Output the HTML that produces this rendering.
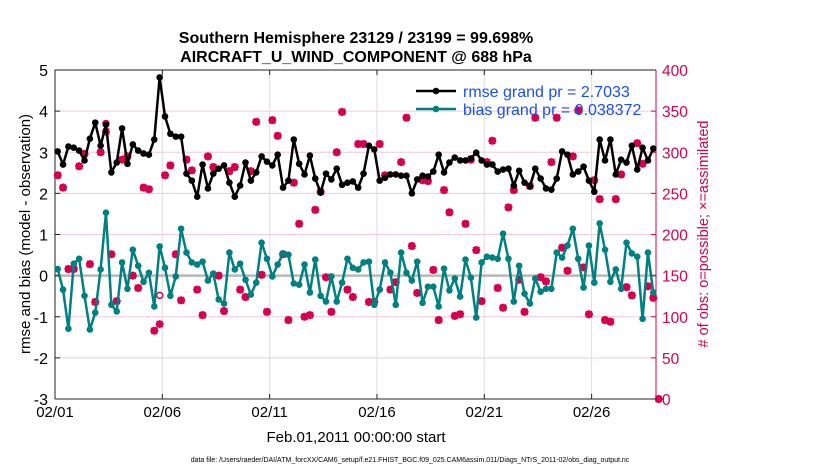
<!DOCTYPE html>
<html><head><meta charset="utf-8"><style>
body{margin:0;background:#fff;}
svg{font-family:"Liberation Sans",Arial,sans-serif;}
</style></head><body>
<svg id="chart" width="830" height="470" viewBox="0 0 830 470">
<rect width="830" height="470" fill="#fff"/>
<g id="grid"></g>
<g id="axes"></g>
<g id="series"></g>
<g id="legend"></g>
<text x="356" y="43" text-anchor="middle" font-size="16" font-weight="bold">Southern Hemisphere 23129 / 23199 = 99.698%</text>
<text x="356" y="62" text-anchor="middle" font-size="16" font-weight="bold">AIRCRAFT_U_WIND_COMPONENT @ 688 hPa</text>
<text transform="translate(30,234) rotate(-90)" text-anchor="middle" font-size="15">rmse and bias (model - observation)</text>
<text transform="translate(708,234) rotate(-90)" text-anchor="middle" font-size="14.5" fill="#d6004f"># of obs: o=possible; ×=assimilated</text>
<text x="356" y="442" text-anchor="middle" font-size="15">Feb.01,2011 00:00:00 start</text>
<text x="410" y="462" text-anchor="middle" font-size="7">data file: /Users/raeder/DAI/ATM_forcXX/CAM6_setup/f.e21.FHIST_BGC.f09_025.CAM6assim.011/Diags_NTrS_2011-02/obs_diag_output.nc</text>
</svg>
<script>
const rmse=[3.02,2.70,3.14,3.11,3.04,2.80,3.33,3.72,3.16,3.67,2.51,2.75,3.58,2.72,3.19,3.04,2.97,2.94,3.31,4.82,3.87,3.45,3.38,3.38,2.48,2.31,1.92,2.70,2.12,
2.48,2.60,2.68,2.26,1.92,2.19,2.75,2.31,2.51,2.90,2.77,2.68,2.94,2.14,2.31,3.31,2.72,2.46,2.92,2.36,2.02,2.48,2.34,2.60,2.21,2.26,2.29,2.14,
2.48,3.16,3.07,2.31,2.38,2.46,2.46,2.43,2.43,2.00,2.34,2.43,2.41,2.53,2.94,2.51,2.75,2.87,2.80,2.80,2.85,2.99,2.80,2.70,2.70,2.53,2.58,
2.60,2.19,2.55,2.26,2.17,2.60,2.36,2.12,2.09,2.36,3.02,2.94,2.46,2.53,2.65,2.31,2.04,3.31,2.80,3.31,2.46,2.82,2.75,3.16,2.58,3.11,2.80,3.09];
const bias=[0.16,-0.34,-1.29,0.29,0.41,-0.49,-1.31,-0.90,0.15,1.53,-0.71,-0.87,0.32,-0.32,0.63,0.24,-0.15,0.07,-0.75,0.71,0.19,-0.49,-0.02,1.14,0.56,0.32,0.27,0.34,-0.12,
0.05,-0.58,-0.68,0.56,0.15,0.29,-0.10,-0.46,-0.17,0.80,0.41,-0.02,0.27,0.54,0.51,-0.19,-0.22,0.27,-0.41,0.39,-0.49,-0.63,-0.02,-0.63,-0.17,0.41,0.19,0.15,
0.32,0.34,-0.71,-0.34,0.32,0.07,-0.71,0.56,0.07,-0.12,0.34,-0.66,-0.27,-0.27,-0.75,0.17,-0.36,-0.07,-0.51,0.39,-0.05,-1.02,0.32,0.46,0.44,0.41,1.02,
0.41,-0.63,0.24,-0.44,-0.68,-0.07,-0.39,-0.32,-0.32,0.56,0.44,0.73,1.14,0.41,-0.29,0.73,-0.17,1.27,0.63,-0.15,0.15,-0.32,0.80,0.54,0.46,-1.05,0.56,-0.41];
const nposs=[272,257,158,158,283,298,164,118,300,335,176,119,291,295,150,135,257,255,83,126,272,284,176,120,291,278,133,102,295,
282,150,107,277,282,133,124,277,337,151,106,339,320,176,96,263,213,100,102,230,252,148,106,300,349,133,124,310,
310,118,118,310,272,133,142,288,342,186,129,266,265,157,96,254,227,101,103,213,291,181,119,288,314,135,111,
233,254,145,106,259,342,148,143,288,342,184,156,295,351,160,103,266,243,96,94,243,273,136,126,311,286,137,123,0];
const nused=[272,257,158,158,283,298,164,118,300,325,176,119,291,295,150,135,257,255,83,91,272,284,176,120,291,278,133,102,295,
282,150,107,277,282,133,124,277,337,151,106,339,320,176,96,263,213,100,102,230,252,148,106,300,349,133,124,310,
310,118,118,310,272,133,142,288,342,186,129,266,265,157,96,254,227,101,103,213,291,181,119,288,314,135,111,
233,254,145,106,259,342,148,143,288,342,184,156,295,351,160,103,266,243,96,94,243,273,136,126,311,286,137,123,0];
const xTickLabels=["02/01","02/06","02/11","02/16","02/21","02/26"];
const xTickDays=[0,5,10,15,20,25];
const yLeftTicks=[-3,-2,-1,0,1,2,3,4,5];
const yRightTicks=[0,50,100,150,200,250,300,350,400];
const legendLabels=["rmse grand pr = 2.7033","bias grand pr = 0.038372"];

const NS="http://www.w3.org/2000/svg";
const L=55,R=656,T=70,B=399;
const xS=d=>L+(d/28)*(R-L);
const yL=v=>B-(v+3)/8*(B-T);
const yR=v=>B-v/400*(B-T);
const dayOf=i=>0.125+0.25*i;
function mk(tag,attrs,parent){const e=document.createElementNS(NS,tag);for(const k in attrs)e.setAttribute(k,attrs[k]);parent.appendChild(e);return e;}
const grid=document.getElementById('grid'),axes=document.getElementById('axes'),ser=document.getElementById('series'),leg=document.getElementById('legend');

yRightTicks.forEach(v=>{const l=mk('line',{x1:L,x2:R,y1:yR(v),y2:yR(v),stroke:'#f3c9d8','stroke-width':1},grid);

});
xTickDays.forEach((d,i)=>{const l=mk('line',{x1:xS(d),x2:xS(d),y1:T,y2:B,stroke:'#dcdcdc','stroke-width':1},grid);


const t=mk('text',{x:xS(d),y:B+18,'text-anchor':'middle','font-size':15},axes);t.textContent=xTickLabels[i];


mk('line',{x1:xS(d),x2:xS(d),y1:B,y2:B-5,stroke:'#222'},axes);mk('line',{x1:xS(d),x2:xS(d),y1:T,y2:T+5,stroke:'#222'},axes);});
const zl=mk('line',{x1:L,x2:R,y1:yL(0),y2:yL(0),stroke:'#b8b8b8','stroke-width':2.5},grid);


yLeftTicks.forEach(v=>{const t=mk('text',{x:L-7,y:yL(v)+6,'text-anchor':'end','font-size':16},axes);t.textContent=v;


mk('line',{x1:L,x2:L+5,y1:yL(v),y2:yL(v),stroke:'#222'},axes);});
yRightTicks.forEach(v=>{const t=mk('text',{x:R+6,y:yR(v)+6,'font-size':15.5,fill:'#d6004f'},axes);t.textContent=v;


mk('line',{x1:R-5,x2:R,y1:yR(v),y2:yR(v),stroke:'#d6004f'},axes);});
mk('path',{d:`M${L},${B}V${T}H${R}`,fill:'none',stroke:'#222','stroke-width':1},axes);
mk('line',{x1:L,x2:R,y1:B,y2:B,stroke:'#222'},axes);
mk('line',{x1:R,x2:R,y1:T,y2:B,stroke:'#d6004f'},axes);

function star(x,y,g){[[0,4],[4,0],[3,3],[3,-3]].forEach(([a,b])=>mk('line',{x1:x-a,y1:y-b,x2:x+a,y2:y+b,stroke:'#d6004f','stroke-width':2.2},g));}
nposs.forEach((v,i)=>{const g=mk('g',{},ser);


mk('circle',{cx:xS(dayOf(i)),cy:yR(v),r:3,fill:'none',stroke:'#d6004f','stroke-width':1.5},g);});
nused.forEach((v,i)=>{const g=mk('g',{},ser);


star(xS(dayOf(i)),yR(v),g);});

function line(arr,col,name){const p=mk('polyline',{points:arr.map((v,i)=>xS(dayOf(i))+','+yL(v)).join(' '),fill:'none',stroke:col,'stroke-width':2.5,'stroke-linejoin':'round'},ser);


arr.forEach((v,i)=>{const c=mk('circle',{cx:xS(dayOf(i)),cy:yL(v),r:3.3,fill:col},ser);

});}
line(rmse,'#000','rmse');
line(bias,'#008080','bias');

[['#000',91],['#008080',109]].forEach(([c,y],i)=>{const g=mk('g',{},leg);


mk('line',{x1:416,x2:456,y1:y,y2:y,stroke:c,'stroke-width':2.5},g);mk('circle',{cx:436,cy:y,r:3.3,fill:c},g);
const t=mk('text',{x:463,y:y+6,'font-size':16,fill:'#1a4cff'},g);t.textContent=legendLabels[i];});
</script>
</body></html>
